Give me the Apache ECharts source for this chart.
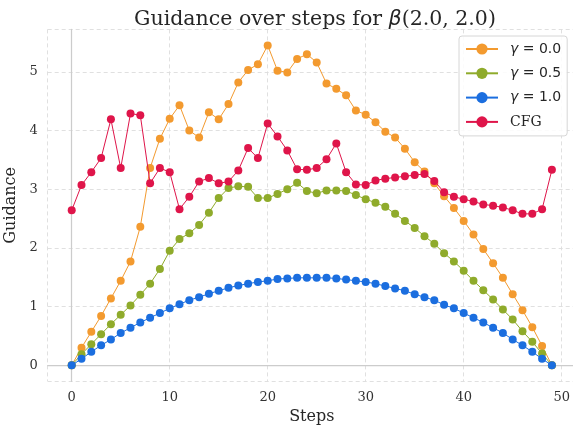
<!DOCTYPE html>
<html>
<head>
<meta charset="utf-8">
<script src="https://cdn.jsdelivr.net/npm/echarts@6/dist/echarts.min.js"></script>
<style>
html,body{margin:0;padding:0;background:#fff;}
#chart{width:573px;height:425px;}
</style>
</head>
<body>
<div id="chart"></div>
<script>
const steps = Array.from({length: 50}, (_, i) => i);
const seriesNames = ['γ = 0.0', 'γ = 0.5', 'γ = 1.0', 'CFG'];
const gamma00 = [0, 0.30, 0.57, 0.84, 1.14, 1.44, 1.77, 2.36, 3.36, 3.86,
  4.20, 4.43, 4.00, 3.88, 4.31, 4.19, 4.45, 4.82, 5.03, 5.13,
  5.45, 5.02, 4.99, 5.22, 5.30, 5.16, 4.80, 4.71, 4.60, 4.34,
  4.27, 4.14, 3.98, 3.88, 3.69, 3.46, 3.30, 3.10, 2.88, 2.68,
  2.46, 2.23, 1.98, 1.74, 1.49, 1.21, 0.94, 0.65, 0.33, 0];
const gamma05 = [0, 0.19, 0.36, 0.53, 0.70, 0.86, 1.02, 1.20, 1.39, 1.64,
  1.95, 2.15, 2.25, 2.39, 2.60, 2.85, 3.02, 3.05, 3.04, 2.85,
  2.85, 2.92, 3.00, 3.11, 2.97, 2.93, 2.98, 2.98, 2.97, 2.90,
  2.83, 2.77, 2.70, 2.58, 2.46, 2.34, 2.20, 2.07, 1.91, 1.77,
  1.61, 1.44, 1.28, 1.12, 0.95, 0.78, 0.58, 0.40, 0.20, 0];
const gamma10 = [0, 0.11, 0.23, 0.34, 0.44, 0.55, 0.64, 0.73, 0.81, 0.89,
  0.97, 1.04, 1.11, 1.16, 1.22, 1.27, 1.32, 1.36, 1.39, 1.42,
  1.44, 1.47, 1.48, 1.49, 1.49, 1.49, 1.49, 1.48, 1.46, 1.44,
  1.42, 1.39, 1.35, 1.31, 1.27, 1.21, 1.16, 1.11, 1.03, 0.97,
  0.89, 0.81, 0.73, 0.64, 0.55, 0.44, 0.34, 0.23, 0.11, 0];
const cfg = [2.64, 3.07, 3.29, 3.53, 4.19, 3.36, 4.29, 4.26, 3.10, 3.36,
  3.29, 2.66, 2.87, 3.13, 3.19, 3.10, 3.13, 3.32, 3.70, 3.53,
  4.12, 3.90, 3.66, 3.34, 3.33, 3.36, 3.51, 3.78, 3.29, 3.08,
  3.07, 3.15, 3.18, 3.20, 3.22, 3.24, 3.26, 3.14, 2.95, 2.87,
  2.83, 2.79, 2.74, 2.72, 2.69, 2.64, 2.58, 2.58, 2.66, 3.33];
const colors = ['#f39a2f', '#8fab2b', '#1b6edf', '#df154a'];
const allValues = [gamma00, gamma05, gamma10, cfg];

const serif = '"DejaVu Serif", serif';
const sans = '"DejaVu Sans", sans-serif';

const chart = echarts.init(document.getElementById('chart'), null, {renderer: 'canvas'});

const series = seriesNames.map((name, k) => ({
  name: name,
  type: 'line',
  data: steps.map((s, i) => [s, allValues[k][i]]),
  symbol: 'circle',
  symbolSize: 8,
  showSymbol: true,
  color: colors[k],
  lineStyle: {width: 1, color: colors[k]},
  itemStyle: {color: colors[k]},
  emphasis: {disabled: true},
  animation: false,
  z: 2 + k
}));

const intLabel = v => (Math.abs(v - Math.round(v)) < 1e-6 ? String(Math.round(v)) : '');

chart.setOption({
  backgroundColor: '#ffffff',
  animation: false,
  title: {
    text: 'Guidance over steps for {b|β}(2.0, 2.0)',
    left: 310,
    top: 4,
    textAlign: 'center',
    textStyle: {
      fontFamily: serif,
      fontSize: 20.5,
      fontWeight: 'normal',
      color: '#262626',
      rich: {
        b: {fontFamily: sans, fontStyle: 'italic', fontSize: 20.5, color: '#262626'}
      }
    }
  },
  legend: {
    orient: 'vertical',
    left: 459,
    top: 36,
    padding: [6, 6, 7, 6],
    itemWidth: 32,
    itemHeight: 14,
    itemGap: 10.3,
    backgroundColor: 'rgba(255,255,255,0.85)',
    borderColor: '#d6d6d6',
    borderWidth: 1,
    borderRadius: 3,
    data: seriesNames,
    formatter: function (name) {
      if (name === 'CFG') return '{s|CFG}';
      return '{g|γ}{m| = ' + name.split('= ')[1] + '}';
    },
    textStyle: {
      fontSize: 14,
      color: '#262626',
      padding: [0, 0, 0, 7],
      rich: {
        s: {fontFamily: serif, fontSize: 14, color: '#262626'},
        g: {fontFamily: sans, fontStyle: 'italic', fontSize: 14, color: '#262626'},
        m: {fontFamily: sans, fontSize: 14, color: '#262626'}
      }
    }
  },
  grid: {
    left: 47.7,
    right: -2.9,
    top: 29.4,
    bottom: 43.7,
    containLabel: false,
    outerBoundsMode: 'none'
  },
  xAxis: {
    type: 'value',
    min: -2.45,
    max: 51.45,
    splitNumber: 5,
    name: 'Steps',
    nameLocation: 'middle',
    nameGap: 26,
    nameTextStyle: {fontFamily: serif, fontSize: 16, color: '#262626'},
    axisLine: {show: true, lineStyle: {color: '#cccccc', width: 1.25}},
    axisTick: {show: false},
    axisLabel: {
      formatter: intLabel,
      fontFamily: serif,
      fontSize: 13,
      color: '#333333',
      margin: 10
    },
    splitLine: {show: true, lineStyle: {color: '#dddddd', width: 0.9, type: [4, 3]}}
  },
  yAxis: {
    type: 'value',
    min: -0.2725,
    max: 5.7225,
    splitNumber: 5,
    name: 'Guidance',
    nameLocation: 'middle',
    nameGap: 25,
    nameRotate: 90,
    nameTextStyle: {fontFamily: serif, fontSize: 16, color: '#262626'},
    axisLine: {show: true, lineStyle: {color: '#cccccc', width: 1.25}},
    axisTick: {show: false},
    axisLabel: {
      formatter: intLabel,
      fontFamily: serif,
      fontSize: 13,
      color: '#333333',
      margin: 10
    },
    splitLine: {show: true, lineStyle: {color: '#dddddd', width: 0.9, type: [4, 3]}}
  },
  series: series
});
</script>
</body>
</html>
